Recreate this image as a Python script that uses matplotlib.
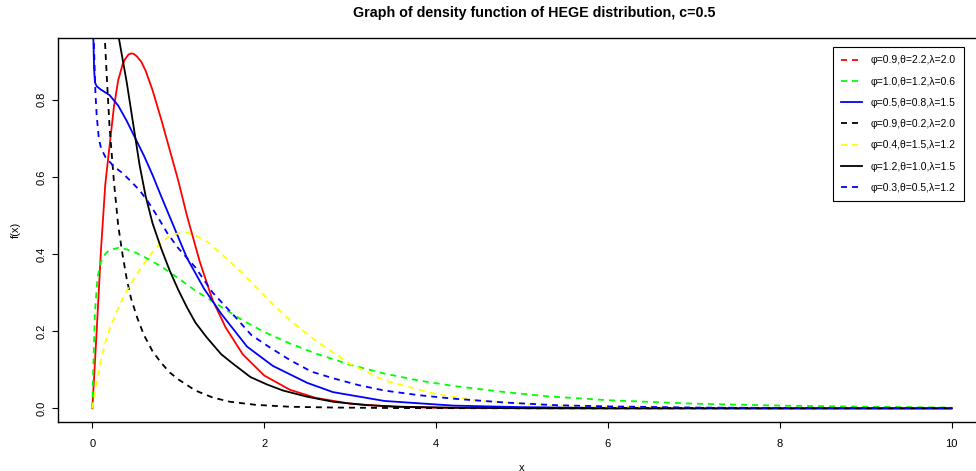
import matplotlib.pyplot as plt
from matplotlib.lines import Line2D

plt.rcParams['font.family'] = ['Liberation Sans', 'DejaVu Sans']

# curve values (x, f(x))
red_x = [0, 0.02, 0.05, 0.1, 0.15, 0.2, 0.25, 0.3, 0.35, 0.38, 0.42, 0.45, 0.48, 0.52, 0.57, 0.62, 0.7, 0.8,
         0.9, 1.0, 1.1, 1.25, 1.4, 1.55, 1.75, 2.0, 2.3, 2.6, 3.0, 3.5, 4.0, 5.0, 6.0, 8.0, 10.0]
red_y = [0, 0.08, 0.2, 0.41, 0.58, 0.68, 0.78, 0.85, 0.89, 0.905, 0.917, 0.92, 0.919, 0.912, 0.898, 0.875, 0.825, 0.75,
         0.67, 0.59, 0.5, 0.38, 0.28, 0.21, 0.14, 0.085, 0.048, 0.027, 0.012, 0.004, 0.0015, 0.0002, 0, 0, 0]

green_x = [0, 0.01, 0.03, 0.06, 0.1, 0.15, 0.2, 0.3, 0.4, 0.5, 0.6, 0.8, 1.0, 1.2, 1.45, 1.75,
           2.0, 2.3, 2.6, 3.0, 3.4, 3.8, 4.2, 4.8, 5.3, 6.0, 7.0, 8.0, 9.0, 10.0]
green_y = [0, 0.1, 0.25, 0.34, 0.38, 0.4, 0.41, 0.416, 0.412, 0.404, 0.393, 0.368, 0.337, 0.305, 0.27, 0.228,
           0.198, 0.168, 0.142, 0.113, 0.09, 0.072, 0.058, 0.042, 0.031, 0.021, 0.012, 0.007, 0.004, 0.002]

blue_x = [0.005, 0.01, 0.02, 0.03, 0.05, 0.1, 0.2, 0.3, 0.4, 0.5, 0.6, 0.7, 0.8, 0.95, 1.1, 1.3,
          1.5, 1.8, 2.1, 2.5, 2.8, 3.4, 4.2, 5.0, 6.0, 8.0, 10.0]
blue_y = [1.2, 0.97, 0.88, 0.845, 0.835, 0.826, 0.812, 0.785, 0.745, 0.70, 0.655, 0.605, 0.55, 0.47, 0.39, 0.31,
          0.245, 0.16, 0.11, 0.066, 0.042, 0.019, 0.007, 0.003, 0.001, 0, 0]

blackd_x = [0.12, 0.14, 0.17, 0.2, 0.25, 0.3, 0.35, 0.4, 0.45, 0.52, 0.6, 0.7, 0.8, 0.9, 1.0,
            1.2, 1.4, 1.6, 1.9, 2.3, 2.8, 3.5, 4.5, 6.0, 8.0, 10.0]
blackd_y = [1.2, 0.98, 0.85, 0.73, 0.59, 0.475, 0.40, 0.335, 0.285, 0.236, 0.19, 0.148, 0.118, 0.093, 0.075,
            0.046, 0.028, 0.017, 0.009, 0.004, 0.002, 0.0007, 0.0002, 0, 0, 0]

yellow_x = [0, 0.03, 0.06, 0.1, 0.15, 0.2, 0.3, 0.4, 0.5, 0.6, 0.7, 0.8, 0.9, 1.0, 1.1, 1.2,
            1.35, 1.5, 1.7, 1.9, 2.1, 2.3, 2.6, 3.0, 3.4, 4.0, 4.5, 5.3, 6.0, 7.0, 8.0, 10.0]
yellow_y = [0, 0.04, 0.08, 0.125, 0.17, 0.205, 0.26, 0.305, 0.342, 0.375, 0.405, 0.43, 0.446, 0.454, 0.455, 0.448,
            0.43, 0.4, 0.36, 0.315, 0.27, 0.228, 0.175, 0.115, 0.072, 0.037, 0.02, 0.008, 0.004, 0.001, 0, 0]

black_x = [0.2, 0.3, 0.4, 0.48, 0.55, 0.62, 0.7, 0.8, 0.9, 1.0, 1.1, 1.2, 1.33, 1.5, 1.64, 1.84,
           2.03, 2.22, 2.5, 2.8, 3.2, 3.6, 4.2, 5.0, 6.0, 8.0, 10.0]
black_y = [1.1, 0.97, 0.845, 0.73, 0.63, 0.55, 0.48, 0.415, 0.357, 0.307, 0.262, 0.222, 0.184, 0.14, 0.115, 0.081,
           0.062, 0.046, 0.03, 0.017, 0.008, 0.004, 0.0015, 0.0004, 0, 0, 0]

blued_x = [0.0, 0.01, 0.02, 0.035, 0.05, 0.075, 0.1, 0.15, 0.25, 0.35, 0.45, 0.55, 0.65, 0.75, 0.87, 1.0,
           1.2, 1.4, 1.65, 1.85, 2.05, 2.3, 2.55, 2.8, 3.1, 3.4, 3.8, 4.2, 4.8, 5.4, 6.0, 7.0, 8.0, 10.0]
blued_y = [1.2, 1.0, 0.93, 0.82, 0.76, 0.70, 0.675, 0.652, 0.627, 0.61, 0.588, 0.565, 0.535, 0.50, 0.455, 0.415,
           0.365, 0.30, 0.24, 0.19, 0.16, 0.125, 0.095, 0.078, 0.06, 0.046, 0.034, 0.025, 0.015, 0.008, 0.005, 0.002, 0.001, 0]

labels = ['φ=0.9,θ=2.2,λ=2.0', 'φ=1.0,θ=1.2,λ=0.6', 'φ=0.5,θ=0.8,λ=1.5', 'φ=0.9,θ=0.2,λ=2.0',
          'φ=0.4,θ=1.5,λ=1.2', 'φ=1.2,θ=1.0,λ=1.5', 'φ=0.3,θ=0.5,λ=1.2']
colors = ['#FF0000', '#00FF00', '#0000FF', '#000000', '#FFFF00', '#000000', '#0000FF']
# the legend shows the red curve dashed, although the curve itself is solid
legend_dashed = [True, True, False, True, True, False, True]

dash = (3.3, 2.8)
lw = 1.3

fig = plt.figure(figsize=(9.76, 4.71), dpi=100)
ax = fig.add_axes([58 / 976, 49 / 471, 928 / 976, 384 / 471])

ax.plot(red_x, red_y, color=colors[0], lw=lw)
ax.plot(green_x, green_y, color=colors[1], lw=lw, dashes=dash)
ax.plot(blue_x, blue_y, color=colors[2], lw=lw)
ax.plot(blackd_x, blackd_y, color=colors[3], lw=lw, dashes=dash)
ax.plot(yellow_x, yellow_y, color=colors[4], lw=lw, dashes=dash)
ax.plot(black_x, black_y, color=colors[5], lw=lw)
ax.plot(blued_x, blued_y, color=colors[6], lw=lw, dashes=dash)

ax.set_xlim(-0.4, 10.4)
ax.set_ylim(-0.0355, 0.96)
ax.set_xticks([0, 2, 4, 6, 8, 10])
ax.set_yticks([0.0, 0.2, 0.4, 0.6, 0.8])
ax.set_yticklabels(['0.0', '0.2', '0.4', '0.6', '0.8'], rotation=90, va='center')
ax.tick_params(direction='out', length=4, width=0.8, labelsize=8)
ax.tick_params(axis='x', pad=8)
ax.tick_params(axis='y', pad=4.5)
for s in ax.spines.values():
    s.set_linewidth(1.0)

ax.set_xlabel('x', fontsize=8, labelpad=10)
ax.set_ylabel('f(x)', fontsize=8, labelpad=11)
fig.text(534 / 976, 1 - 13 / 471, 'Graph of density function of HEGE distribution, c=0.5',
         ha='center', va='center', fontsize=10.3, fontweight='bold')

handles = []
for c, d in zip(colors, legend_dashed):
    if d:
        handles.append(Line2D([], [], color=c, lw=lw, dashes=dash))
    else:
        handles.append(Line2D([], [], color=c, lw=lw))
leg = ax.legend(handles, labels, loc='upper left', bbox_to_anchor=(833 / 976, 1 - 47 / 471),
                bbox_transform=fig.transFigure, borderaxespad=0, fontsize=7.5, fancybox=False,
                framealpha=1, edgecolor='black', labelspacing=1.08, handlelength=1.95,
                handletextpad=0.9, borderpad=0.8)
leg.get_frame().set_linewidth(0.8)

fig.savefig('out.png', dpi=100)
